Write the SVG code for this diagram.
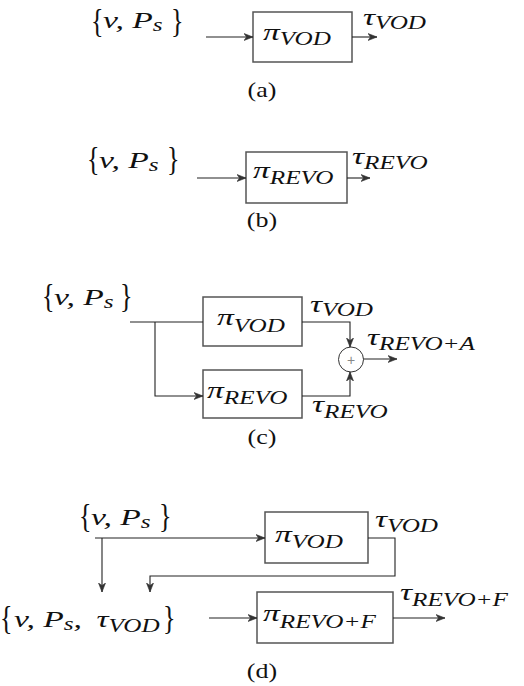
<svg xmlns="http://www.w3.org/2000/svg" width="524" height="686" viewBox="0 0 524 686">
<style>
.m{font-family:"Liberation Serif","Times New Roman",serif;font-style:italic;font-size:24px;fill:#111}
.s{font-size:18px}
.br{font-family:"Liberation Serif","Times New Roman",serif;font-size:26px;fill:#111}
.cap{font-family:"Liberation Serif","Times New Roman",serif;font-size:20px;fill:#111;text-anchor:middle}
.box{fill:#fff;stroke:#555;stroke-width:1.5}
.ln{fill:none;stroke:#222;stroke-width:1.1}
.pl{font-family:"Liberation Sans",Arial,sans-serif;font-size:14px;fill:#888;text-anchor:middle}
</style>
<defs>
<marker id="ah" markerUnits="userSpaceOnUse" markerWidth="10" markerHeight="8" refX="9" refY="4" orient="auto">
<path d="M0,0.5 L9,4 L0,7.5 L2.5,4 z" fill="#333" stroke="#333" stroke-width="0.6"/>
</marker>
</defs>

<!-- (a) -->
<g id="a-input">
<text class="br" transform="translate(91,31.5) scale(1,1.3)">{</text>
<text class="m" transform="translate(103,28) scale(1.4,1)">v, P<tspan class="s" dy="3">s</tspan></text>
<text class="br" transform="translate(171,31.5) scale(1,1.3)">}</text>
</g>
<g id="a-vod">
<rect class="box" x="253" y="12" width="99" height="50"/>
<text class="m" transform="translate(263,40) scale(1.4,1)">π<tspan class="s" dy="5">VOD</tspan></text>
</g>
<g id="a-out">
<text class="m" transform="translate(363,25) scale(1.4,1)">τ<tspan class="s" dy="4">VOD</tspan></text>
</g>
<text class="cap" transform="translate(262,97) scale(1.3,1)">(a)</text>

<!-- (b) -->
<g id="b-input">
<text class="br" transform="translate(87,170) scale(1,1.3)">{</text>
<text class="m" transform="translate(99,168) scale(1.4,1)">v, P<tspan class="s" dy="3">s</tspan></text>
<text class="br" transform="translate(167,170) scale(1,1.3)">}</text>
</g>
<g id="b-revo">
<rect class="box" x="246" y="152" width="101" height="51"/>
<text class="m" transform="translate(253,178) scale(1.4,1)">π<tspan class="s" dy="6">REVO</tspan></text>
</g>
<g id="b-out">
<text class="m" transform="translate(352,164) scale(1.4,1)">τ<tspan class="s" dy="5">REVO</tspan></text>
</g>
<text class="cap" transform="translate(262,227) scale(1.3,1)">(b)</text>

<!-- (c) -->
<g id="c-input">
<text class="br" transform="translate(42,307) scale(1,1.3)">{</text>
<text class="m" transform="translate(54,305) scale(1.4,1)">v, P<tspan class="s" dy="3">s</tspan></text>
<text class="br" transform="translate(120,307) scale(1,1.3)">}</text>
</g>
<g id="c-vod">
<rect class="box" x="203" y="297" width="99" height="49"/>
<text class="m" transform="translate(217,325) scale(1.4,1)">π<tspan class="s" dy="7">VOD</tspan></text>
</g>
<g id="c-revo">
<rect class="box" x="203" y="370" width="99" height="48"/>
<text class="m" transform="translate(207,398) scale(1.4,1)">π<tspan class="s" dy="6">REVO</tspan></text>
</g>
<g id="c-sum">
<circle cx="351" cy="359.5" r="12.5" fill="#fff" stroke="#333" stroke-width="1"/>
<text class="pl" x="351" y="364.5">+</text>
</g>
<g id="c-labels">
<text class="m" transform="translate(310,312) scale(1.4,1)">τ<tspan class="s" dy="4">VOD</tspan></text>
<text class="m" transform="translate(367,345) scale(1.4,1)">τ<tspan class="s" dy="5">REVO+A</tspan></text>
<text class="m" transform="translate(312,412) scale(1.4,1)">τ<tspan class="s" dy="6">REVO</tspan></text>
</g>
<text class="cap" transform="translate(262,444) scale(1.3,1)">(c)</text>

<!-- (d) -->
<g id="d-input">
<text class="br" transform="translate(79,527) scale(1,1.3)">{</text>
<text class="m" transform="translate(91,525) scale(1.4,1)">v, P<tspan class="s" dy="3">s</tspan></text>
<text class="br" transform="translate(159,527) scale(1,1.3)">}</text>
</g>
<g id="d-vod">
<rect class="box" x="265" y="512" width="103" height="51"/>
<text class="m" transform="translate(275,542) scale(1.4,1)">π<tspan class="s" dy="6">VOD</tspan></text>
</g>
<g id="d-vod-out">
<text class="m" transform="translate(375,527) scale(1.4,1)">τ<tspan class="s" dy="5">VOD</tspan></text>
</g>
<g id="d-aug">
<text class="br" transform="translate(0,629) scale(1,1.3)">{</text>
<text class="m" transform="translate(14,627) scale(1.4,1)">v, P<tspan class="s" dy="3">s</tspan><tspan dy="-3">, </tspan><tspan x="59">τ</tspan><tspan class="s" dy="5">VOD</tspan></text>
<text class="br" transform="translate(163,629) scale(1,1.3)">}</text>
</g>
<g id="d-revof">
<rect class="box" x="257" y="592" width="136" height="51"/>
<text class="m" transform="translate(263,621) scale(1.4,1)">π<tspan class="s" dy="7">REVO+F</tspan></text>
</g>
<g id="d-out">
<text class="m" transform="translate(400,600) scale(1.4,1)">τ<tspan class="s" dy="6">REVO+F</tspan></text>
</g>
<text class="cap" transform="translate(262,678) scale(1.3,1)">(d)</text>

<g id="connectors">
<path class="ln" d="M206,37 H253" marker-end="url(#ah)"/>
<path class="ln" d="M352,37 H377" marker-end="url(#ah)"/>
<path class="ln" d="M197,178 H246" marker-end="url(#ah)"/>
<path class="ln" d="M347,178 H370" marker-end="url(#ah)"/>
<path class="ln" d="M130,322 H203"/>
<path class="ln" d="M155,322 V396 H203" marker-end="url(#ah)"/>
<path class="ln" d="M302,322 H350 V347" marker-end="url(#ah)"/>
<path class="ln" d="M302,396 H350 V372" marker-end="url(#ah)"/>
<path class="ln" d="M363.5,359 H397" marker-end="url(#ah)"/>
<path class="ln" d="M95,538 H265" marker-end="url(#ah)"/>
<path class="ln" d="M102,538 V592" marker-end="url(#ah)"/>
<path class="ln" d="M368,538 H395 V576 H150 V592" marker-end="url(#ah)"/>
<path class="ln" d="M209,618 H257" marker-end="url(#ah)"/>
<path class="ln" d="M393,618 H445" marker-end="url(#ah)"/>
</g>
</svg>
